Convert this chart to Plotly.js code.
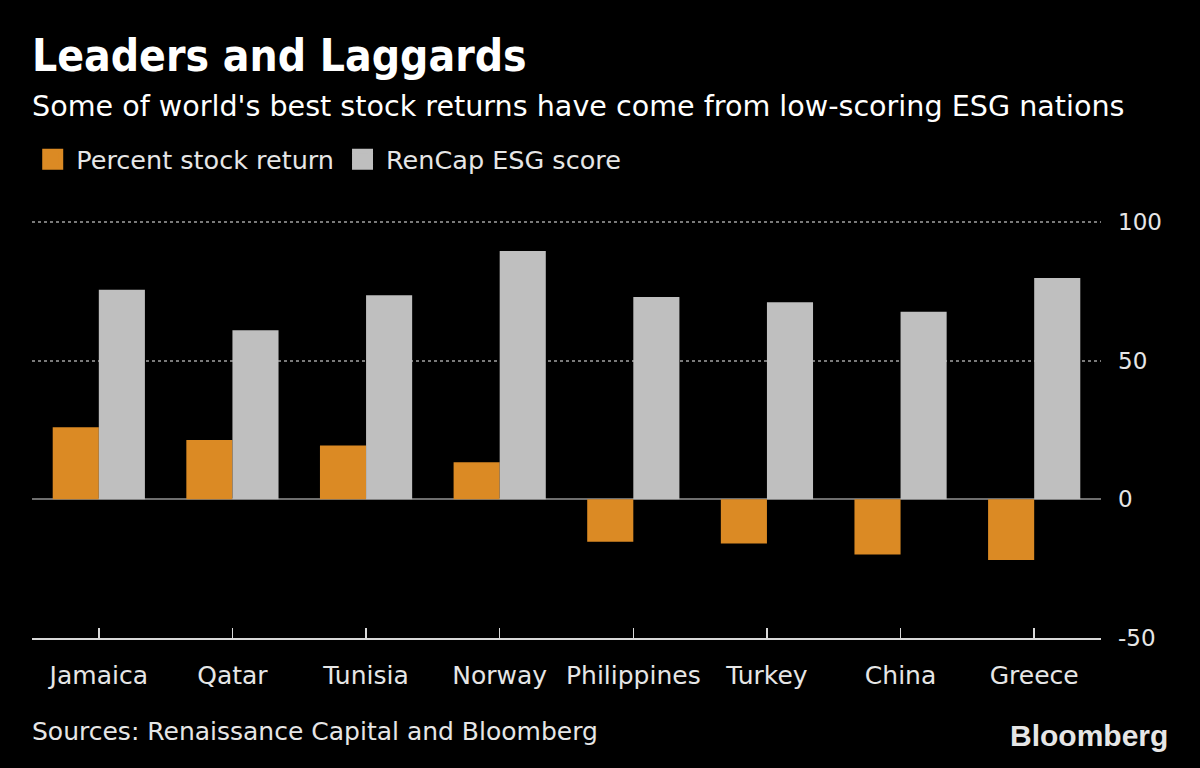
<!DOCTYPE html>
<html>
<head>
<meta charset="utf-8">
<script src="https://cdn.plot.ly/plotly-3.0.1.min.js"></script>
<style>html,body{margin:0;padding:0;background:#000;}#chart{width:1200px;height:768px;}</style>
</head>
<body>
<div id="chart"></div>
<script>
const countries = ["Jamaica", "Qatar", "Tunisia", "Norway", "Philippines", "Turkey", "China", "Greece"];
const stockReturn = [26, 21.4, 19.4, 13.4, -15.3, -15.9, -19.9, -21.9];
const esgScore = [75.6, 61, 73.6, 89.6, 73, 71.1, 67.7, 79.8];
const yTicks = [-50, 0, 50, 100];
const seriesNames = ["Percent stock return", "RenCap ESG score"];

const FONT = "DejaVu Sans, sans-serif";
const TFONT = "DejaVu Sans Condensed, DejaVu Sans, sans-serif";
const ORANGE = "#DB8A24";
const GRAY = "#BFBFBF";

const traces = [
  {type: "bar", x: countries, y: stockReturn, name: seriesNames[0], marker: {color: ORANGE}, showlegend: false, hoverinfo: "x+y"},
  {type: "bar", x: countries, y: esgScore, name: seriesNames[1], marker: {color: GRAY}, showlegend: false, hoverinfo: "x+y"},
  {type: "scatter", mode: "markers", x: [null], y: [null], name: seriesNames[0],
   marker: {symbol: "square", size: 16, color: ORANGE, line: {color: ORANGE, width: 5}}, showlegend: true},
  {type: "scatter", mode: "markers", x: [null], y: [null], name: seriesNames[1],
   marker: {symbol: "square", size: 16, color: GRAY, line: {color: GRAY, width: 5}}, showlegend: true}
];

const layout = {
  width: 1200, height: 768,
  paper_bgcolor: "#000", plot_bgcolor: "#000",
  font: {family: FONT, color: "#e6e6e6", size: 25},
  margin: {l: 32, r: 99, t: 221, b: 130},
  barmode: "group", bargap: 0.31, bargroupgap: 0,
  showlegend: true,
  legend: {orientation: "h", x: -0.0026, xanchor: "left", y: 1.147, yanchor: "middle",
           font: {family: FONT, size: 25.5, color: "#e6e6e6"}, bgcolor: "rgba(0,0,0,0)",
           itemsizing: "trace", tracegroupgap: 0, itemwidth: 37},
  xaxis: {type: "category", showgrid: false, zeroline: false,
          showline: true, linecolor: "#d9d9d9", linewidth: 2,
          ticks: "inside", ticklen: 10, tickcolor: "#d9d9d9", tickwidth: 1.5,
          ticklabelstandoff: 14,
          tickfont: {family: FONT, size: 25, color: "#e6e6e6"}, fixedrange: true},
  yaxis: {range: [-50, 100.4], side: "right", tickvals: yTicks, ticktext: yTicks.map(String),
          showgrid: true, gridcolor: "#7a7a7a", griddash: "dot", gridwidth: 2,
          zeroline: true, zerolinecolor: "#6e6e6e", zerolinewidth: 2,
          showline: false, ticks: "", ticklabelstandoff: 16,
          tickfont: {family: FONT, size: 23, color: "#e6e6e6"}, fixedrange: true},
  annotations: [
    {xref: "paper", yref: "paper", x: -0.002, y: 1.397, xanchor: "left", yanchor: "middle",
     text: "<b>Leaders and Laggards</b>", showarrow: false, font: {family: TFONT, size: 44, color: "#ffffff"}},
    {xref: "paper", yref: "paper", x: -0.002, y: 1.276, xanchor: "left", yanchor: "middle",
     text: "Some of world's best stock returns have come from low-scoring ESG nations", showarrow: false,
     font: {family: FONT, size: 28.6, color: "#ffffff"}},
    {xref: "paper", yref: "paper", x: -0.002, y: -0.224, xanchor: "left", yanchor: "middle",
     text: "Sources: Renaissance Capital and Bloomberg", showarrow: false,
     font: {family: FONT, size: 25, color: "#e6e6e6"}},
    {xref: "paper", yref: "paper", x: 1.0646, y: -0.233, xanchor: "right", yanchor: "middle",
     text: "<b>Bloomberg</b>", showarrow: false,
     font: {family: "Liberation Sans, Arial, sans-serif", size: 30, color: "#e6e6e6"}}
  ]
};

Plotly.newPlot("chart", traces, layout, {displayModeBar: false, staticPlot: true});
</script>
</body>
</html>
